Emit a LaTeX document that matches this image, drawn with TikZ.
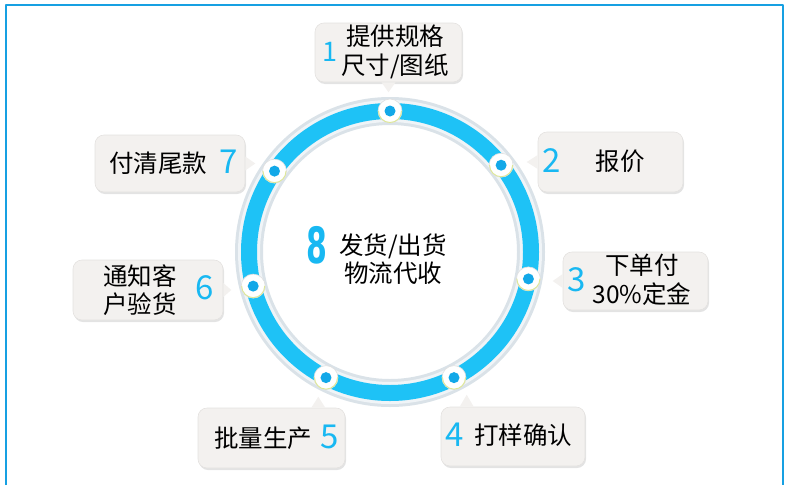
\documentclass[tikz,border=0pt]{standalone}
\usepackage{fontspec}
\setmainfont{Noto Sans CJK SC}
\newfontfamily\eightfont{DejaVu Sans}
\usepackage{xcolor}
\usetikzlibrary{calc,shadows}

\definecolor{framecol}{RGB}{22,160,226}
\definecolor{ringblue}{RGB}{30,194,246}
\definecolor{ringhalo}{RGB}{218,226,232}
\definecolor{ringrim}{RGB}{240,244,247}
\definecolor{numblue}{RGB}{24,184,242}
\definecolor{dotblue}{RGB}{18,168,232}
\definecolor{boxfill}{RGB}{243,241,239}
\definecolor{boxline}{RGB}{228,226,224}
\definecolor{rimgreen}{RGB}{222,232,150}

\begin{document}
\begin{tikzpicture}[
  x=1pt, y=-1pt,
  line cap=round,
  line join=round,
  callout/.style={rectangle, rounded corners=9pt, fill=boxfill, draw=boxline,
    line width=0.6pt, inner sep=0pt,
    drop shadow={shadow xshift=1pt, shadow yshift=-2pt, opacity=.22, fill=gray}},
  boxtext/.style={font=\fontsize{24.5}{28.5}\selectfont, align=center, inner sep=0pt},
  numtext/.style={font=\fontsize{33}{33}\selectfont, text=numblue, inner sep=0pt},
  ringdot/.style={circle, fill=white, draw=gray!25, line width=0.6pt,
    minimum size=24pt, inner sep=0pt},
  dotcore/.style={circle, fill=dotblue, minimum size=11pt, inner sep=0pt}
]
  % Canvas and blue frame (open at the bottom)
  \useasboundingbox (0,0) rectangle (790,485);
  \draw[framecol, line width=2pt, line cap=butt] (6,485) -- (6,5) -- (783,5) -- (783,485);

  % Ring
  \coordinate (c) at (390,252);
  \draw[ringhalo, line width=28pt] (c) circle (141);
  \draw[ringrim,  line width=22pt] (c) circle (141);
  \draw[ringblue, line width=16pt] (c) circle (141);

  % Dots on the ring (screen angles, clockwise from east)
  \foreach \ang/\n in {-90/1, -38/2, 11/3, 63/4, 117/5, 166/6, 215/7}{
    \node[ringdot] (d\n) at ($(c)+(\ang:141)$) {};
    \draw[rimgreen, line width=0.9pt] ([xshift=-11.5pt]d\n.center) arc (180:360:11.5pt);
    \node[dotcore] at (d\n) {};
  }

  % Callout boxes
  \node[callout, minimum width=147, minimum height=59] (b1) at (388.5,52.5) {};
  \node[callout, minimum width=145, minimum height=60] (b2) at (610.5,162) {};
  \node[callout, minimum width=145, minimum height=58] (b3) at (635.5,281) {};
  \node[callout, minimum width=144, minimum height=59] (b4) at (513,436.5) {};
  \node[callout, minimum width=147, minimum height=60] (b5) at (271.5,438) {};
  \node[callout, minimum width=150, minimum height=60] (b6) at (148,290) {};
  \node[callout, minimum width=150, minimum height=57] (b7) at (170,163.5) {};

  % Pointers towards the dots
  \fill[boxfill] ([xshift=-7pt]b1.south) -- ([yshift=-10pt]b1.south) -- ([xshift=7pt]b1.south) -- cycle;
  \fill[boxfill] ([yshift=-7pt]b2.west) -- ([xshift=-11pt]b2.west) -- ([yshift=7pt]b2.west) -- cycle;
  \fill[boxfill] ([yshift=-7pt]b3.west) -- ([xshift=-10pt]b3.west) -- ([yshift=7pt]b3.west) -- cycle;
  \fill[boxfill] ([xshift=19pt]b4.north west) -- ([xshift=26pt,yshift=12pt]b4.north west) -- ([xshift=33pt]b4.north west) -- cycle;
  \fill[boxfill] ([xshift=-34pt]b5.north east) -- ([xshift=-27pt,yshift=11pt]b5.north east) -- ([xshift=-20pt]b5.north east) -- cycle;
  \fill[boxfill] ([yshift=-7pt]b6.east) -- ([xshift=8pt]b6.east) -- ([yshift=7pt]b6.east) -- cycle;
  \fill[boxfill] ([yshift=-7pt]b7.east) -- ([xshift=10pt]b7.east) -- ([yshift=7pt]b7.east) -- cycle;

  % Step numbers
  \node[numtext, font=\fontsize{27}{27}\selectfont] (n1) at (330,52) {1};
  \node[numtext] (n2) at (552,161) {2};
  \node[numtext] (n3) at (577,280) {3};
  \node[numtext] (n4) at (455,435) {4};
  \node[numtext] (n5) at (330,437) {5};
  \node[numtext] (n6) at (205,288) {6};
  \node[numtext] (n7) at (229,162) {7};

  % Step texts
  \node[boxtext] (t1) at (395,52)  {提供规格\\尺寸/图纸};
  \node[boxtext] (t2) at (620,161) {报价};
  \node[boxtext] (t3) at (642,280) {下单付\\30\%定金};
  \node[boxtext] (t4) at (523,435) {打样确认};
  \node[boxtext] (t5) at (263,438) {批量生产};
  \node[boxtext] (t6) at (140,290) {通知客\\户验货};
  \node[boxtext] (t7) at (158,163) {付清尾款};

  % Centre: last step
  \node[numtext, font=\fontsize{50}{50}\selectfont\eightfont\bfseries] (n8) at (317,245) {\scalebox{0.6}[1]{8}};
  \node[boxtext] (t8) at (393,259) {发货/出货\\物流代收};
\end{tikzpicture}
\end{document}
